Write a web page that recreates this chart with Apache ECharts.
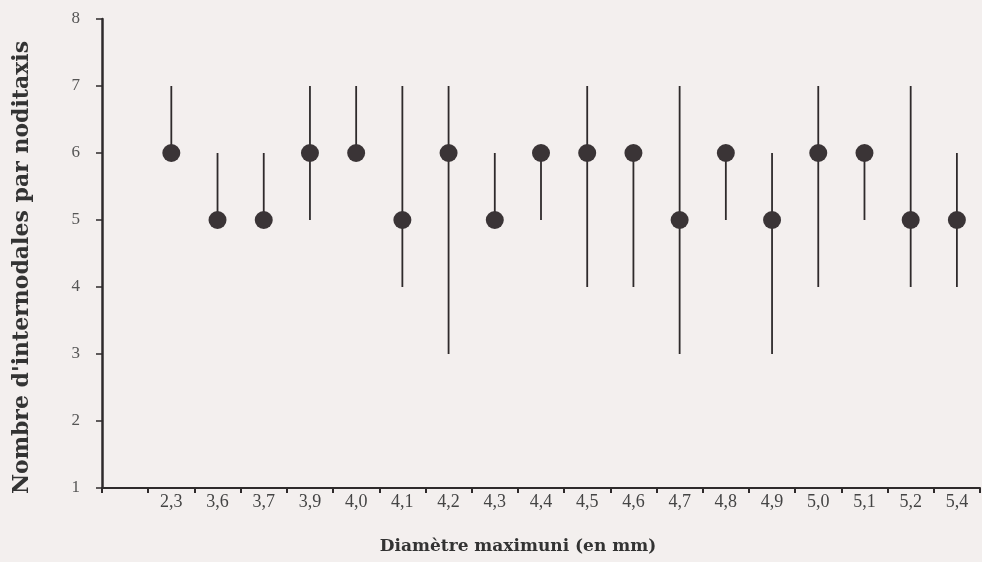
<!DOCTYPE html>
<html>
<head>
<meta charset="utf-8">
<script src="https://cdn.jsdelivr.net/npm/echarts@6/dist/echarts.min.js"></script>
<style>
html,body{margin:0;padding:0;background:#f3efee;}
#chart{width:982px;height:562px;}
</style>
</head>
<body>
<div id="chart"></div>
<script>
const categories = ['2,3','3,6','3,7','3,9','4,0','4,1','4,2','4,3','4,4','4,5','4,6','4,7','4,8','4,9','5,0','5,1','5,2','5,4'];
const meanValues = [6,5,5,6,6,5,6,5,6,6,6,5,6,5,6,6,5,5];
const maxValues  = [7,6,6,7,7,7,7,6,6,7,6,7,6,6,7,6,7,6];
const minValues  = [6,5,5,5,6,4,3,5,5,4,4,3,5,3,4,5,4,4];
const yTicks = [1,2,3,4,5,6,7,8];

const axisCats = [''].concat(categories);
const rangeData = categories.map((c, i) => [c, minValues[i], maxValues[i]]);
const pointData = categories.map((c, i) => [c, meanValues[i]]);

const ink = '#2e2a2b';
const font = '"Liberation Serif", "DejaVu Serif", serif';
const wideFont = '"DejaVu Serif", "Liberation Serif", serif';

const chart = echarts.init(document.getElementById('chart'), null, {renderer: 'canvas'});
chart.setOption({
  backgroundColor: '#f3efee',
  animation: false,
  grid: {left: 102, right: 2, top: 19, bottom: 74, containLabel: false},
  xAxis: {
    type: 'category',
    data: axisCats,
    boundaryGap: true,
    name: 'Diamètre maximuni (en mm)',
    nameLocation: 'middle',
    nameGap: 50,
    nameTextStyle: {fontFamily: wideFont, fontSize: 17, fontWeight: 'bold', color: '#333', padding: [0, 46, 0, 0]},
    axisLine: {show: true, lineStyle: {color: ink, width: 2}},
    axisTick: {show: true, interval: 0, length: 5, lineStyle: {color: ink, width: 2}},
    axisLabel: {interval: 0, fontFamily: font, fontSize: 18, color: '#444', margin: 5},
    splitLine: {show: false}
  },
  yAxis: {
    type: 'value',
    min: 1, max: 8, interval: 1,
    name: "Nombre d'internodales par noditaxis",
    nameLocation: 'middle',
    nameRotate: 90,
    nameGap: 69,
    nameTextStyle: {fontFamily: wideFont, fontSize: 22, fontWeight: 'bold', color: '#333', padding: [0, 28, 0, 0]},
    axisLine: {show: true, lineStyle: {color: ink, width: 2.5}},
    axisTick: {show: true, length: 6, lineStyle: {color: ink, width: 1.5}},
    axisLabel: {fontFamily: font, fontSize: 17, color: '#555', margin: 22,
      formatter: v => yTicks.includes(v) ? String(v) : ''},
    splitLine: {show: false}
  },
  series: [
    {
      type: 'custom',
      data: rangeData,
      encode: {x: 0, y: [1, 2]},
      renderItem: function (params, api) {
        const lo = api.coord([api.value(0), api.value(1)]);
        const hi = api.coord([api.value(0), api.value(2)]);
        return {
          type: 'line',
          shape: {x1: lo[0], y1: lo[1], x2: hi[0], y2: hi[1]},
          style: {stroke: ink, lineWidth: 1.8}
        };
      },
      z: 2
    },
    {
      type: 'scatter',
      data: pointData,
      symbol: 'circle',
      symbolSize: 18,
      itemStyle: {color: '#3a3436', opacity: 1},
      z: 3
    }
  ]
});
</script>
</body>
</html>
